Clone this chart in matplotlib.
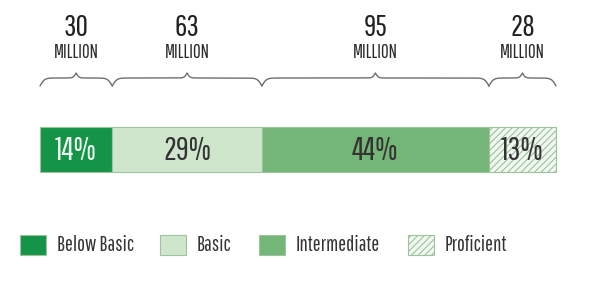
import numpy as np
import matplotlib.pyplot as plt
from matplotlib.patches import Rectangle

plt.rcParams['font.family'] = ['Pathway Gothic One', 'DejaVu Sans']
plt.rcParams['hatch.color'] = '#b9ccb9'
plt.rcParams['hatch.linewidth'] = 0.8

levels = ['Below Basic', 'Basic', 'Intermediate', 'Proficient']
shares = [14, 29, 44, 13]
millions = ['30', '63', '95', '28']
colors = ['#149447', '#cfe6cd', '#74b677', '#f1f6f0']
hatches = ['', '', '', '/////']
text_colors = ['#eef7ee', '#333333', '#333333', '#333333']

fig = plt.figure(figsize=(6, 3), dpi=100)
ax = fig.add_axes([0, 0, 1, 1])
# x in percent, bar 0..100 spans pixels 40..556; y in pixels from the top
px = 5.16
ax.set_xlim(-40 / px, (600 - 40) / px)
ax.set_ylim(300, 0)
ax.axis('off')

lefts = np.concatenate([[0], np.cumsum(shares)[:-1]])
ax.barh(149.5, shares, left=lefts, height=45, color=colors,
        edgecolor='#9cc39c', linewidth=0.8)
for bar, h in zip(ax.patches, hatches):
    bar.set_hatch(h)

for l, s, tc in zip(lefts, shares, text_colors):
    ax.text(l + s / 2, 151, f'{s}%', ha='center', va='center',
            fontsize=23, color=tc)


def brace(x0, x1, y_end=86, a1=8, a2=5, beta=0.45):
    # curly brace in pixel units, converted back to percent units
    p0, p1 = x0 * px, x1 * px
    mid = (p0 + p1) / 2
    xs = np.linspace(p0, mid, 200)
    s1 = 1 / (1 + np.exp(-beta * (xs - p0)))
    s2 = 1 / (1 + np.exp(-beta * 1.6 * (xs - mid)))
    ys = y_end - 2 * a1 * (s1 - 0.5) - 2 * a2 * s2
    xs_full = np.concatenate([xs, 2 * mid - xs[::-1]])
    ys_full = np.concatenate([ys, ys[::-1]])
    ax.plot(xs_full / px, ys_full, color='#6e6e6e', lw=1.0,
            solid_capstyle='round')


for l, s, m in zip(lefts, shares, millions):
    brace(l, l + s)
    ax.text(l + s / 2, 27, m, ha='center', va='center', fontsize=22,
            color='#222222')
    ax.text(l + s / 2, 52, 'MILLION', ha='center', va='center',
            fontsize=13.5, color='#2a2a2a')

# legend
leg_x = [20, 160, 259, 408]
for x, c, h, name in zip(leg_x, colors, hatches, levels):
    ax.add_patch(Rectangle(((x - 40) / px, 235), 26 / px, 20,
                           facecolor=c, hatch=h, edgecolor='#9cc39c',
                           linewidth=0.8))
    ax.text((x + 37 - 40) / px, 245, name, ha='left', va='center',
            fontsize=15, color='#333333')

fig.savefig('out.png', dpi=100)
